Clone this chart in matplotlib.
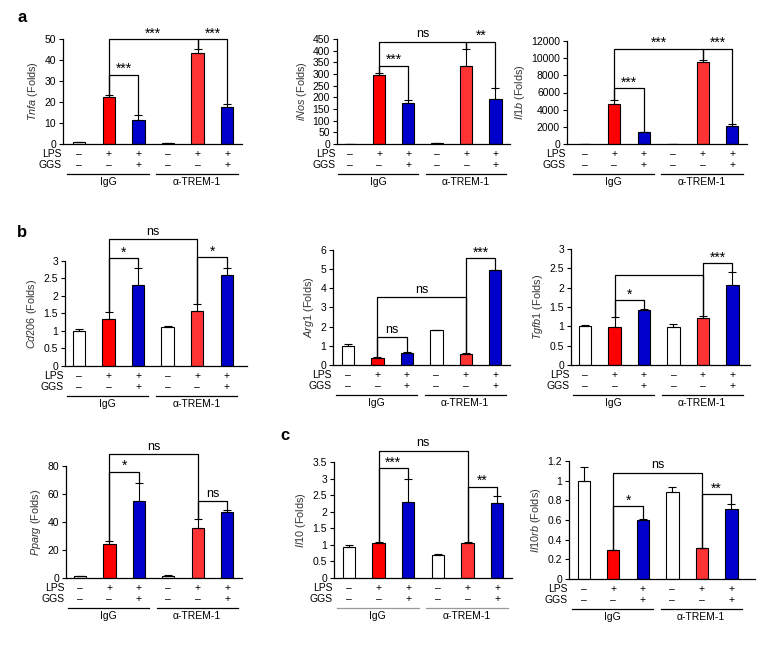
import matplotlib
matplotlib.use('Agg')
import matplotlib.pyplot as plt
from matplotlib import transforms
from matplotlib.ticker import FormatStrFormatter, MultipleLocator

plt.rcParams['font.family'] = ['Liberation Sans', 'DejaVu Sans']
plt.rcParams['mathtext.fontset'] = 'custom'
plt.rcParams['mathtext.it'] = 'Liberation Sans:italic'
plt.rcParams['mathtext.rm'] = 'Liberation Sans'

# shared conditions
lps = ['–', '+', '+', '–', '+', '+']
ggs = ['–', '–', '+', '–', '–', '+']
groups = ['IgG', 'α-TREM-1']
colors = ['white', '#ff0000', '#0000cc', 'white', '#ff3333', '#0000cc']

# values per gene (mean, upper error), brackets (bar i, bar j, height, label)
tnfa = [1.0, 22.5, 11.5, 0.5, 43.5, 17.8]
tnfa_err = [0, 0.9, 2.2, 0, 1.6, 1.3]
tnfa_sig = [(1, 2, 33, '***'), (1, 4, 50, '***'), (4, 5, 50, '***')]

inos = [0.5, 295, 175, 3, 335, 192]
inos_err = [0, 8, 15, 0, 72, 46]
inos_sig = [(1, 2, 335, '***'), (1, 4, 438, 'ns'), (4, 5, 438, '**')]

il1b = [0, 4650, 1450, 0, 9500, 2100]
il1b_err = [0, 450, 0, 0, 300, 200]
il1b_sig = [(1, 2, 6500, '***'), (1, 4, 11100, '***'), (4, 5, 11100, '***')]

cd206 = [1.0, 1.33, 2.32, 1.1, 1.58, 2.61]
cd206_err = [0.07, 0.22, 0.48, 0.03, 0.2, 0.19]
cd206_sig = [(1, 2, 3.08, '*'), (1, 4, 3.62, 'ns'), (4, 5, 3.1, '*')]

arg1 = [1.0, 0.37, 0.62, 1.8, 0.57, 4.95]
arg1_err = [0.1, 0.03, 0.04, 0.03, 0.04, 0.02]
arg1_sig = [(1, 2, 1.45, 'ns'), (1, 4, 3.55, 'ns'), (4, 5, 5.57, '***')]

tgfb1 = [1.02, 0.97, 1.41, 0.97, 1.22, 2.08]
tgfb1_err = [0.02, 0.28, 0.05, 0.1, 0.04, 0.33]
tgfb1_sig = [(1, 2, 1.68, '*'), (1, 4, 2.33, ''), (4, 5, 2.64, '***')]

pparg = [1.2, 24, 55, 1.5, 36, 47.5]
pparg_err = [0, 2.5, 13, 0.5, 6, 1.2]
pparg_sig = [(1, 2, 76, '*'), (1, 4, 88.5, 'ns'), (4, 5, 55, 'ns')]

il10 = [0.95, 1.07, 2.3, 0.68, 1.07, 2.27]
il10_err = [0.05, 0.03, 0.7, 0.05, 0.03, 0.2]
il10_sig = [(1, 2, 3.32, '***'), (1, 4, 3.84, 'ns'), (4, 5, 2.75, '**')]

il10rb = [1.0, 0.29, 0.6, 0.88, 0.32, 0.71]
il10rb_err = [0.14, 0, 0.01, 0.06, 0, 0.05]
il10rb_sig = [(1, 2, 0.74, '*'), (1, 4, 1.08, 'ns'), (4, 5, 0.865, '**')]

W, H = 762, 648
fig = plt.figure(figsize=(W / 100, H / 100), dpi=100)

# (gene, values, errors, brackets, ymax, ystep, box px [left, top, right, bottom], xlim, line colour)
panels = [
    ('Tnfa', tnfa, tnfa_err, tnfa_sig, 50, 10, [63, 39, 242, 144], (-0.55, 5.5), 'black'),
    ('iNos', inos, inos_err, inos_sig, 450, 50, [337, 39, 510, 144], (-0.45, 5.5), 'black'),
    ('Il1b', il1b, il1b_err, il1b_sig, 12000, 2000, [567, 41, 747, 144], (-0.6, 5.5), 'black'),
    ('Cd206', cd206, cd206_err, cd206_sig, 3, 0.5, [65, 261, 247, 366], (-0.47, 5.68), 'black'),
    ('Arg1', arg1, arg1_err, arg1_sig, 6, 1, [333, 250, 510, 365], (-0.51, 5.5), 'black'),
    ('Tgfb1', tgfb1, tgfb1_err, tgfb1_sig, 3, 0.5, [571, 249, 750, 365], (-0.48, 5.6), 'black'),
    ('Pparg', pparg, pparg_err, pparg_sig, 80, 20, [66, 466, 242, 578], (-0.47, 5.5), 'black'),
    ('Il10', il10, il10_err, il10_sig, 3.5, 0.5, [334, 462, 512, 578], (-0.5, 5.5), '#999999'),
    ('Il10rb', il10rb, il10rb_err, il10rb_sig, 1.2, 0.2, [569, 461, 755, 579], (-0.5, 5.8), 'black'),
]

px = 0.72  # pixel -> points

for gene, vals, errs, sigs, ymax, ystep, box, xlim, ulc in panels:
    l, t, r, b = box
    ax = fig.add_axes([l / W, 1 - b / H, (r - l) / W, (b - t) / H])
    x = list(range(len(vals)))
    ax.bar(x, vals, width=0.42, color=colors, edgecolor='black', linewidth=0.8, zorder=2)
    ax.errorbar(x, vals, yerr=[[0] * len(errs), errs], fmt='none', ecolor='black',
                elinewidth=0.8, capsize=3, capthick=0.8, zorder=3)
    ax.set_xlim(*xlim)
    ax.set_ylim(0, ymax)
    ax.yaxis.set_major_locator(MultipleLocator(ystep))
    ax.yaxis.set_major_formatter(FormatStrFormatter('%g'))
    ax.set_xticks([])
    for s in ['top', 'right']:
        ax.spines[s].set_visible(False)
    for s in ['left', 'bottom']:
        ax.spines[s].set_linewidth(0.9)
    ax.tick_params(axis='y', direction='out', length=3, width=0.8, labelsize=7.5, pad=2)
    ax.set_ylabel(r'$\it{' + gene + '}$ (Folds)', fontsize=7.8, color='#333333', labelpad=3)

    # significance brackets
    for i, j, h, lab in sigs:
        yi = vals[i] + errs[i]
        yj = vals[j] + errs[j]
        ax.plot([i, i, j, j], [yi, h, h, yj], color='black', lw=0.9, clip_on=False, zorder=4)
        if lab == 'ns':
            ax.annotate(lab, xy=((i + j) / 2, h), xytext=(0, 1), textcoords='offset points',
                        ha='center', va='bottom', fontsize=9, annotation_clip=False)
        elif lab:
            ax.annotate(lab, xy=((i + j) / 2, h), xytext=(0, -1), textcoords='offset points',
                        ha='center', va='bottom', fontsize=10, annotation_clip=False)

    # treatment rows below the axis
    for k in x:
        ax.annotate(lps[k], xy=(k, 0), xycoords=('data', 'axes fraction'), xytext=(0, -10 * px),
                    textcoords='offset points', ha='center', va='center', fontsize=7.5,
                    annotation_clip=False)
        ax.annotate(ggs[k], xy=(k, 0), xycoords=('data', 'axes fraction'), xytext=(0, -21 * px),
                    textcoords='offset points', ha='center', va='center', fontsize=7.5,
                    annotation_clip=False)
    ax.annotate('LPS', xy=(0, 0), xycoords='axes fraction', xytext=(-1, -10 * px),
                textcoords='offset points', ha='right', va='center', fontsize=7.5)
    ax.annotate('GGS', xy=(0, 0), xycoords='axes fraction', xytext=(-1, -21 * px),
                textcoords='offset points', ha='right', va='center', fontsize=7.5)
    trans = transforms.offset_copy(ax.get_xaxis_transform(), fig=fig, y=-30 * px, units='points')
    for g, name in enumerate(groups):
        x0 = g * 3 - 0.4
        x1 = g * 3 + 2.35
        ax.plot([x0, x1], [0, 0], color=ulc, lw=0.9, transform=trans, clip_on=False)
        ax.annotate(name, xy=((x0 + x1) / 2, 0), xycoords=('data', 'axes fraction'),
                    xytext=(0, -38 * px), textcoords='offset points', ha='center', va='center',
                    fontsize=7.5, annotation_clip=False)

fig.text(22 / W, 1 - 17 / H, 'a', fontsize=12, fontweight='bold', ha='center', va='center')
fig.text(22 / W, 1 - 233 / H, 'b', fontsize=12, fontweight='bold', ha='center', va='center')
fig.text(285 / W, 1 - 435 / H, 'c', fontsize=12, fontweight='bold', ha='center', va='center')

fig.savefig('out.png', dpi=100)
